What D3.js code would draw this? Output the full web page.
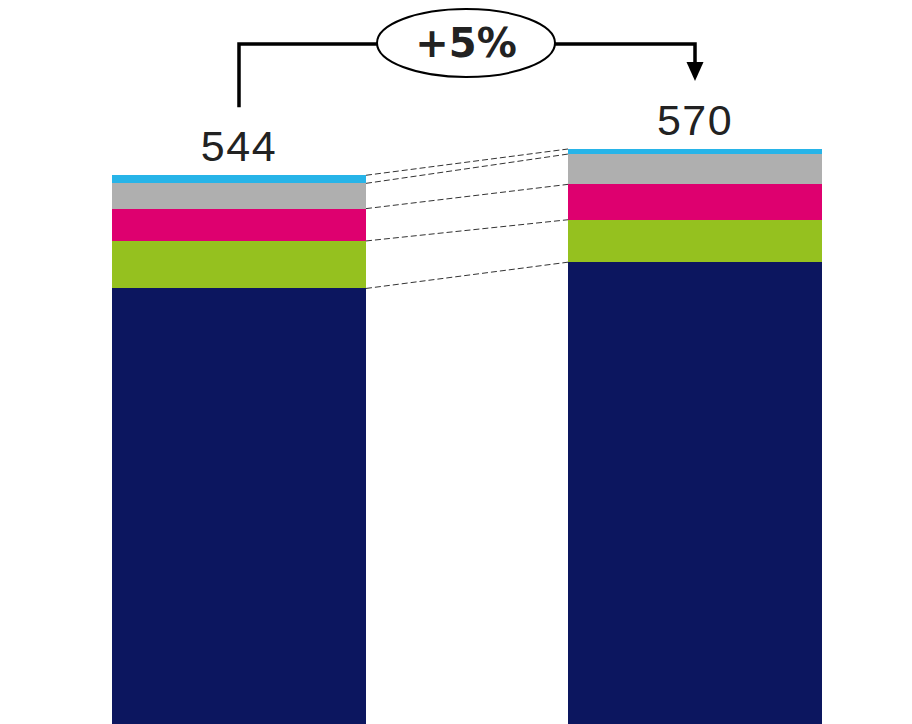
<!DOCTYPE html>
<html>
<head>
<meta charset="utf-8">
<script src="https://cdn.jsdelivr.net/npm/d3@7"></script>
<style>
html,body{margin:0;padding:0;background:#fff;}
svg{display:block;}
</style>
</head>
<body>
<svg id="chart" width="912" height="724"></svg>
<script>
// ---- data ----
const periods = ["Year 1", "Year 2"];
const seriesNames = ["Navy", "Green", "Magenta", "Gray", "Light blue"];
const navyValues = [432, 458];
const greenValues = [47, 42];
const magentaValues = [32, 35];
const grayValues = [25, 30];
const lightBlueValues = [8, 5];
const seriesColors = ["#0c165f", "#95c11f", "#de006f", "#afafaf", "#27b4e8"];

const seriesValues = [navyValues, greenValues, magentaValues, grayValues, lightBlueValues];
const table = periods.map((p, i) => {
  const row = {period: p};
  seriesNames.forEach((s, j) => row[s] = seriesValues[j][i]);
  return row;
});
const totals = table.map(r => d3.sum(seriesNames, s => r[s]));

const svg = d3.select("#chart");

const x = d3.scaleBand().domain(periods).range([112, 822]).paddingInner(0.443).paddingOuter(0);
const y = d3.scaleLinear().domain([0, 570]).range([725, 149]);

const stacked = d3.stack().keys(seriesNames)(table);

// bars
svg.append("g").selectAll("g").data(stacked).join("g")
  .attr("fill", (d, i) => seriesColors[i])
  .selectAll("rect").data(d => d).join("rect")
  .attr("x", d => x(d.data.period))
  .attr("y", d => y(d[1]))
  .attr("width", x.bandwidth())
  .attr("height", d => y(d[0]) - y(d[1]))
  .attr("shape-rendering", "crispEdges");

// dashed connectors at top of each segment
const conn = svg.append("g");
stacked.forEach(layer => {
  conn.append("line")
    .attr("x1", x(periods[0]) + x.bandwidth())
    .attr("y1", y(layer[0][1]))
    .attr("x2", x(periods[1]))
    .attr("y2", y(layer[1][1]))
    .attr("stroke", "#333")
    .attr("stroke-width", 1)
    .attr("stroke-dasharray", "6,3");
});

// total labels
svg.append("g").selectAll("text").data(table).join("text")
  .attr("x", d => x(d.period) + x.bandwidth() / 2)
  .attr("y", (d, i) => y(totals[i]) - 14)
  .attr("text-anchor", "middle")
  .attr("font-family", "Liberation Sans, Arial, sans-serif")
  .attr("font-size", 43)
  .attr("letter-spacing", 1.5)
  .attr("fill", "#222")
  .text((d, i) => totals[i]);

// growth bracket
const cx1 = x(periods[0]) + x.bandwidth() / 2;
const cx2 = x(periods[1]) + x.bandwidth() / 2;
const by = 44;
const tip = y(totals[1]) - 68;
svg.append("path")
  .attr("d", `M${cx1},${y(totals[0]) - 68}V${by}H${cx2}V${tip - 18}`)
  .attr("fill", "none")
  .attr("stroke", "#000")
  .attr("stroke-width", 3.5);
svg.append("path")
  .attr("d", `M${cx2 - 8.5},${tip - 19}L${cx2 + 8.5},${tip - 19}L${cx2},${tip}Z`)
  .attr("fill", "#000");

const mx = (cx1 + cx2) / 2 - 1;
svg.append("ellipse")
  .attr("cx", mx).attr("cy", 43)
  .attr("rx", 89).attr("ry", 34)
  .attr("fill", "#fff")
  .attr("stroke", "#000")
  .attr("stroke-width", 2);
const growth = totals[1] / totals[0] - 1;
svg.append("text")
  .attr("x", mx).attr("y", 57)
  .attr("text-anchor", "middle")
  .attr("font-family", "DejaVu Sans, sans-serif")
  .attr("font-weight", "bold")
  .attr("font-size", 40)
  .attr("fill", "#222")
  .text(d3.format("+.0%")(growth));
</script>
</body>
</html>
